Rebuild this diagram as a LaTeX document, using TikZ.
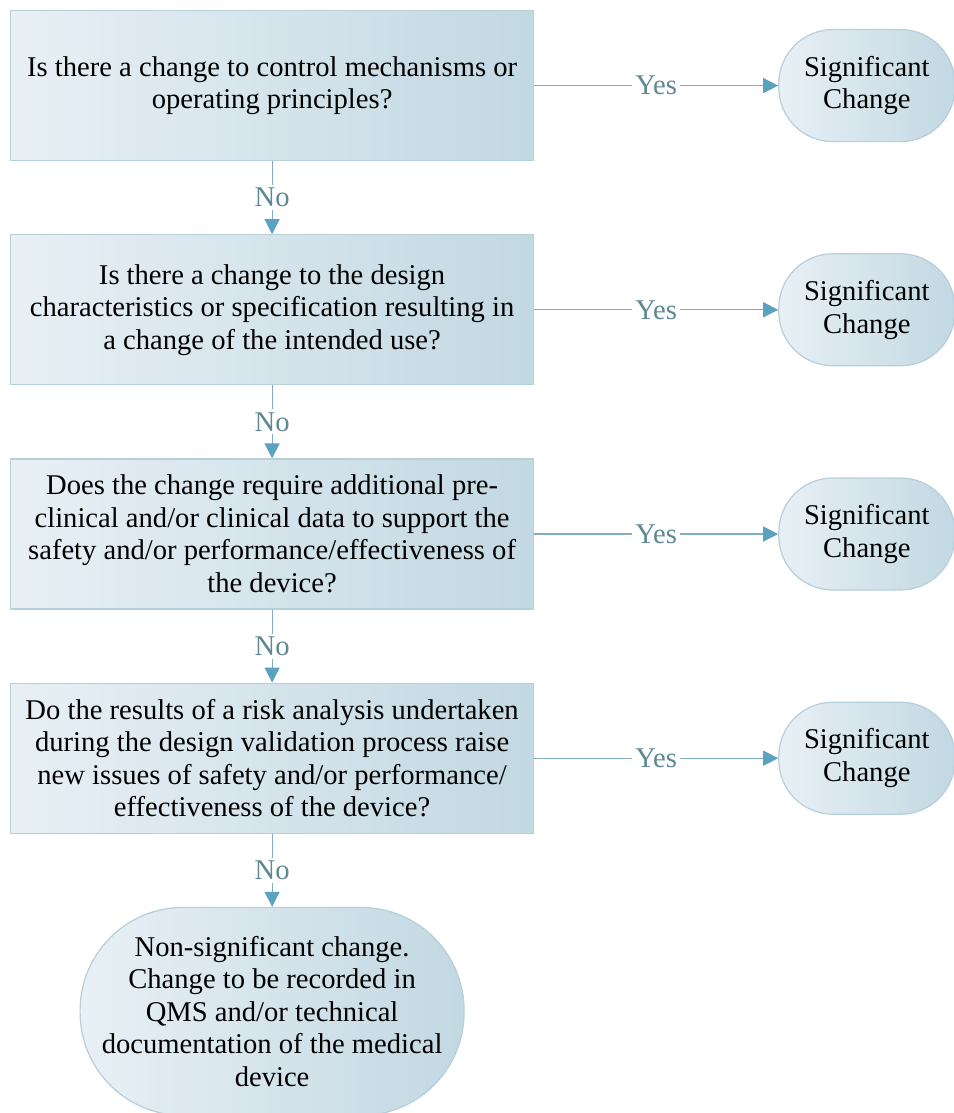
\documentclass[tikz,border=0pt]{standalone}
\usepackage{fontspec}
\setmainfont{Liberation Serif}
\usetikzlibrary{arrows.meta, positioning}
\definecolor{boxlight}{HTML}{E8F0F5}
\definecolor{boxdark}{HTML}{C2D8E2}
\definecolor{boxline}{HTML}{B6CFDA}
\definecolor{linkline}{HTML}{7FAEC0}
\definecolor{linktip}{HTML}{5BA2C0}
\definecolor{answertext}{HTML}{5E8893}
\tikzstyle{question} = [rectangle, minimum width=523pt, minimum height=150pt, align=center, draw=boxline, line width=1.2pt, left color=boxlight, right color=boxdark]
\tikzstyle{outcome} = [rectangle, rounded corners=54pt, minimum width=176pt, minimum height=112pt, align=center, draw=boxline, line width=1.2pt, left color=boxlight, right color=boxdark]
\tikzstyle{closing} = [rectangle, rounded corners=103pt, minimum width=384pt, minimum height=208pt, align=center, draw=boxline, line width=1.2pt, left color=boxlight, right color=boxdark]
\tikzstyle{connector} = [linkline, line width=1.2pt, -{Triangle[length=15pt, width=15pt, color=linktip]}]
\tikzstyle{answer} = [fill=white, text=answertext, inner sep=3pt]

\begin{document}
\begin{tikzpicture}[x=1pt, y=1pt, node distance=73pt and 244pt, font=\fontsize{28.6}{32.5}\selectfont]
\useasboundingbox (0,0) rectangle (953,-1113);
% Questions
\node (control) [question, anchor=north west] at (10,-10) {Is there a change to control mechanisms or\\operating principles?};
\node (design) [question, below=of control] {Is there a change to the design\\characteristics or specification resulting in\\a change of the intended use?};
\node (data) [question, below=of design] {Does the change require additional pre-\\clinical and/or clinical data to support the\\safety and/or performance/effectiveness of\\the device?};
\node (risk) [question, below=of data] {Do the results of a risk analysis undertaken\\during the design validation process raise\\new issues of safety and/or performance/\\effectiveness of the device?};
% Outcomes
\node (sig1) [outcome, right=of control] {Significant\\Change};
\node (sig2) [outcome, right=of design] {Significant\\Change};
\node (sig3) [outcome, right=of data] {Significant\\Change};
\node (sig4) [outcome, right=of risk] {Significant\\Change};
\node (nonsig) [closing, below=of risk] {Non-significant change.\\Change to be recorded in\\QMS and/or technical\\documentation of the medical\\device};

% Arrows
\draw [connector] (control) -- node [answer] {Yes} (sig1);
\draw [connector] (design) -- node [answer] {Yes} (sig2);
\draw [connector] (data) -- node [answer] {Yes} (sig3);
\draw [connector] (risk) -- node [answer] {Yes} (sig4);
\draw [connector] (control) -- node [answer] {No} (design);
\draw [connector] (design) -- node [answer] {No} (data);
\draw [connector] (data) -- node [answer] {No} (risk);
\draw [connector] (risk) -- node [answer] {No} (nonsig);
\end{tikzpicture}
\end{document}
